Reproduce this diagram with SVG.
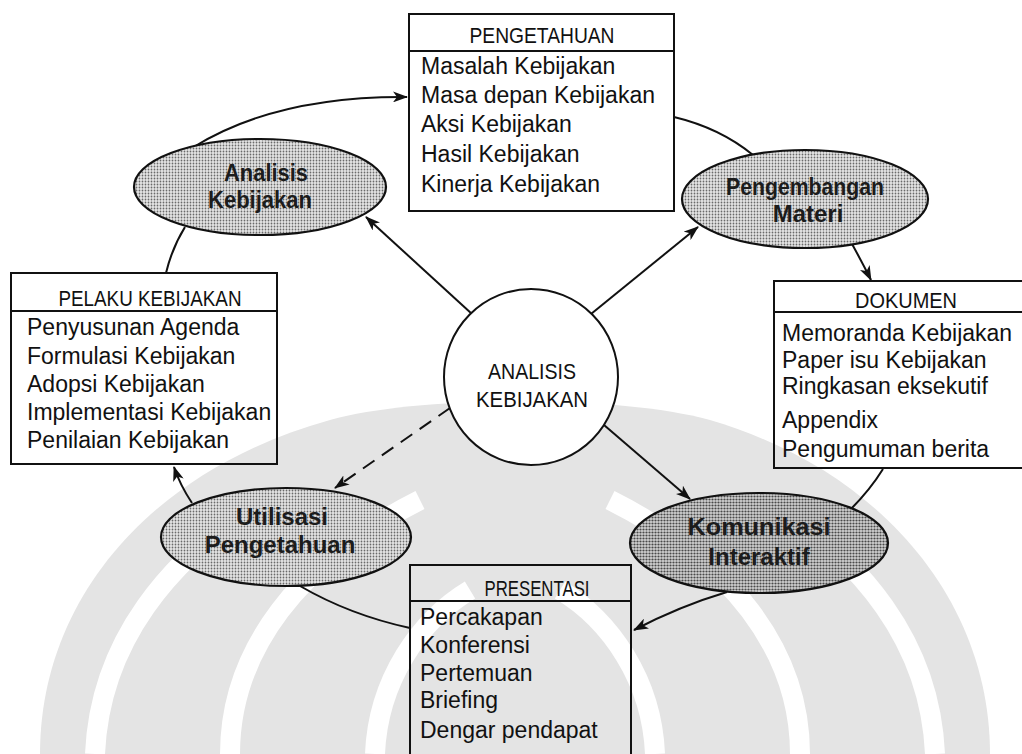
<svg xmlns="http://www.w3.org/2000/svg" width="1022" height="754" viewBox="0 0 1022 754">
  <defs>
    <pattern id="dots" width="3" height="3" patternUnits="userSpaceOnUse">
      <rect width="3" height="3" fill="#e6e6e6"/>
      <circle cx="1.5" cy="1.5" r="0.9" fill="#6a6a6a"/>
    </pattern>
    <pattern id="dotsDark" width="3" height="3" patternUnits="userSpaceOnUse">
      <rect width="3" height="3" fill="#d2d2d2"/>
      <circle cx="1.5" cy="1.5" r="1.1" fill="#4a4a4a"/>
    </pattern>
    <marker id="arrow" markerWidth="15" markerHeight="11" refX="14" refY="5.5" orient="auto" markerUnits="userSpaceOnUse">
      <path d="M0,0 L15,5.5 L0,11 L4,5.5 Z" fill="#111"/>
    </marker>
    <style>
      .box { fill: none; stroke: #111; stroke-width: 2; }
      .hdr { font-family: "Liberation Sans", Arial, sans-serif; font-size: 22px; fill: #111; text-anchor: middle; }
      .item { font-family: "Liberation Sans", Arial, sans-serif; font-size: 23px; fill: #111; }
      .oval { stroke: #111; stroke-width: 2.2; }
      .olbl { font-family: "Liberation Sans", Arial, sans-serif; font-size: 24px; font-weight: bold; fill: #1c1c1c; text-anchor: middle; }
      .clbl { font-family: "Liberation Sans", Arial, sans-serif; font-size: 22px; fill: #111; text-anchor: middle; }
      .conn { fill: none; stroke: #111; stroke-width: 2; }
      .dash { stroke-dasharray: 14 9; }
      .wm { fill: #e4e4e4; }
      .wmcut { fill: none; stroke: #ffffff; stroke-width: 20; }
    </style>
  </defs>

  <rect width="1022" height="754" fill="#ffffff"/>

  <!-- faint background emblem -->
  <g id="emblem">
    <path class="wm" d="M40,754 C40,600 150,470 330,420 C420,395 620,395 710,420 C880,470 990,600 990,754 Z"/>
    <path class="wmcut" d="M95,754 C100,640 170,560 260,500"/>
    <path class="wmcut" d="M935,754 C930,640 860,560 770,500"/>
    <path class="wmcut" d="M230,754 C230,650 300,560 420,500"/>
    <path class="wmcut" d="M800,754 C800,650 730,560 610,500"/>
    <path class="wmcut" d="M375,754 C378,680 420,620 470,590"/>
    <path class="wmcut" d="M655,754 C652,680 610,620 560,590"/>
  </g>

  <!-- connectors -->
  <g id="connectors">
    <path class="conn" d="M192,148 Q275,96 407,97" marker-end="url(#arrow)"/>
    <path class="conn" d="M674,117 Q720,128 753,155"/>
    <path class="conn" d="M852,244 Q862,262 871,280" marker-end="url(#arrow)"/>
    <path class="conn" d="M883,469 Q870,490 850,510"/>
    <path class="conn" d="M727,592 Q680,606 634,630" marker-end="url(#arrow)"/>
    <path class="conn" d="M410,628 Q350,615 300,586"/>
    <path class="conn" d="M192,503 Q180,485 174,467" marker-end="url(#arrow)"/>
    <path class="conn" d="M166,273 Q172,248 185,227"/>
    <path class="conn" d="M472,314 L366,217" marker-end="url(#arrow)"/>
    <path class="conn" d="M591,314 L698,227" marker-end="url(#arrow)"/>
    <path class="conn" d="M604,425 L690,499" marker-end="url(#arrow)"/>
    <path class="conn dash" d="M450,408 L335,488" marker-end="url(#arrow)"/>
  </g>

  <g id="pengetahuan">
    <rect class="box" x="409" y="14" width="265" height="197"/>
    <line class="box" x1="409" y1="51" x2="674" y2="51"/>
    <text class="hdr" x="542" y="43" textLength="145" lengthAdjust="spacingAndGlyphs">PENGETAHUAN</text>
    <text class="item" x="421" y="74">Masalah Kebijakan</text>
    <text class="item" x="421" y="103">Masa depan Kebijakan</text>
    <text class="item" x="421" y="132">Aksi Kebijakan</text>
    <text class="item" x="421" y="162">Hasil Kebijakan</text>
    <text class="item" x="421" y="192">Kinerja Kebijakan</text>
  </g>

  <g id="pelaku">
    <rect class="box" x="11" y="273" width="266" height="191"/>
    <line class="box" x1="11" y1="311" x2="277" y2="311"/>
    <text class="hdr" x="150" y="306" textLength="183" lengthAdjust="spacingAndGlyphs">PELAKU KEBIJAKAN</text>
    <text class="item" x="27" y="335">Penyusunan Agenda</text>
    <text class="item" x="27" y="364">Formulasi Kebijakan</text>
    <text class="item" x="27" y="392">Adopsi Kebijakan</text>
    <text class="item" x="27" y="420">Implementasi Kebijakan</text>
    <text class="item" x="27" y="448">Penilaian Kebijakan</text>
  </g>

  <g id="dokumen">
    <rect class="box" x="774" y="281" width="260" height="187"/>
    <line class="box" x1="774" y1="312" x2="1034" y2="312"/>
    <text class="hdr" x="906" y="308" textLength="102" lengthAdjust="spacingAndGlyphs">DOKUMEN</text>
    <text class="item" x="782" y="341">Memoranda Kebijakan</text>
    <text class="item" x="782" y="368">Paper isu Kebijakan</text>
    <text class="item" x="782" y="394">Ringkasan eksekutif</text>
    <text class="item" x="782" y="428">Appendix</text>
    <text class="item" x="782" y="457">Pengumuman berita</text>
  </g>

  <g id="presentasi">
    <rect class="box" x="410" y="565" width="221" height="210"/>
    <line class="box" x1="410" y1="601" x2="631" y2="601"/>
    <text class="hdr" x="537" y="596" textLength="105" lengthAdjust="spacingAndGlyphs">PRESENTASI</text>
    <text class="item" x="420" y="625">Percakapan</text>
    <text class="item" x="420" y="653">Konferensi</text>
    <text class="item" x="420" y="681">Pertemuan</text>
    <text class="item" x="420" y="708">Briefing</text>
    <text class="item" x="420" y="738">Dengar pendapat</text>
  </g>

  <g id="analisis-kebijakan">
    <ellipse class="oval" cx="260" cy="187" rx="126" ry="48" fill="url(#dots)"/>
    <text class="olbl" x="266" y="181" textLength="84" lengthAdjust="spacingAndGlyphs">Analisis</text>
    <text class="olbl" x="260" y="208" textLength="104" lengthAdjust="spacingAndGlyphs">Kebijakan</text>
  </g>

  <g id="pengembangan-materi">
    <ellipse class="oval" cx="805" cy="199" rx="123" ry="49" fill="url(#dots)"/>
    <text class="olbl" x="805" y="195" textLength="158" lengthAdjust="spacingAndGlyphs">Pengembangan</text>
    <text class="olbl" x="808" y="222">Materi</text>
  </g>

  <g id="utilisasi-pengetahuan">
    <ellipse class="oval" cx="286" cy="537" rx="125" ry="49" fill="url(#dots)"/>
    <text class="olbl" x="282" y="525">Utilisasi</text>
    <text class="olbl" x="280" y="553">Pengetahuan</text>
  </g>

  <g id="komunikasi-interaktif">
    <ellipse class="oval" cx="759" cy="543" rx="129" ry="50" fill="url(#dotsDark)"/>
    <text class="olbl" x="759" y="535" textLength="143" lengthAdjust="spacingAndGlyphs">Komunikasi</text>
    <text class="olbl" x="759" y="565">Interaktif</text>
  </g>

  <g id="pusat">
    <ellipse cx="531" cy="377" rx="87" ry="88" fill="#ffffff" stroke="#111" stroke-width="2"/>
    <text class="clbl" x="532" y="379" textLength="88" lengthAdjust="spacingAndGlyphs">ANALISIS</text>
    <text class="clbl" x="532" y="407" textLength="112" lengthAdjust="spacingAndGlyphs">KEBIJAKAN</text>
  </g>
</svg>
